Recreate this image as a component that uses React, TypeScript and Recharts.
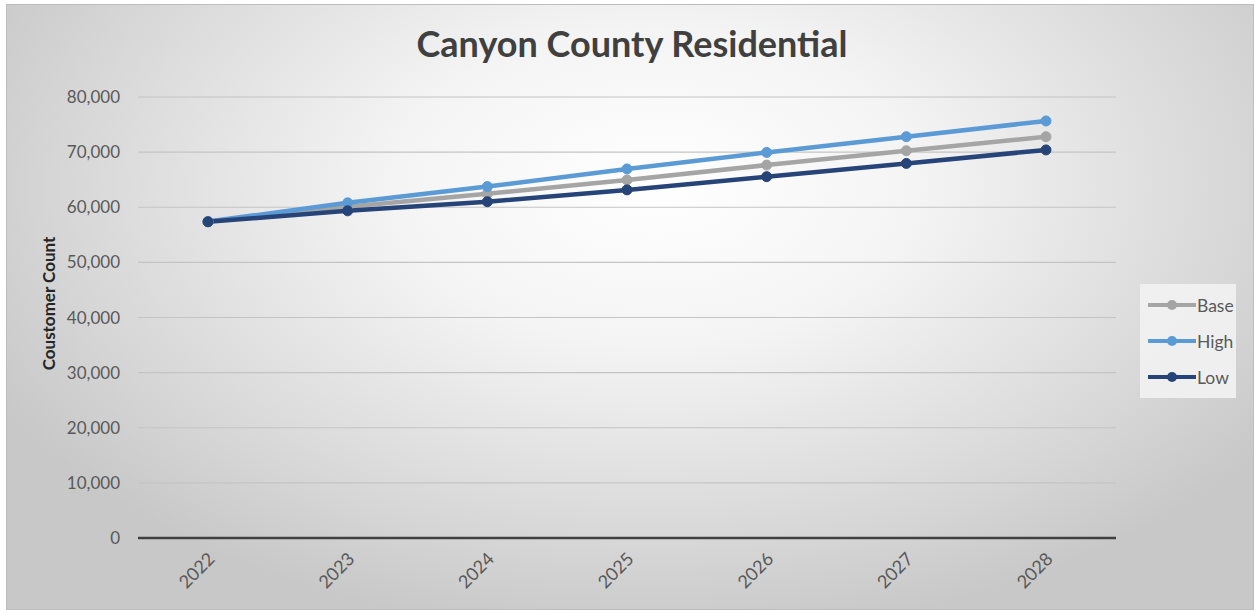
import { LineChart, Line, XAxis, YAxis, CartesianGrid, Legend } from "recharts";

const years = ["2022", "2023", "2024", "2025", "2026", "2027", "2028"];
const base = [57400, 60100, 62450, 64950, 67650, 70250, 72800];
const high = [57400, 60800, 63750, 66950, 69950, 72800, 75650];
const low = [57350, 59350, 61000, 63150, 65550, 67950, 70400];
const yTicks = [0, 10000, 20000, 30000, 40000, 50000, 60000, 70000, 80000];

const data = years.map((year, i) => ({ year, Base: base[i], High: high[i], Low: low[i] }));

const FONT = "Lato, 'Open Sans', sans-serif";

const YearTick = (props: any) => {
  const { x, y, payload } = props;
  const ax = x + 8;
  const ay = y + 14;
  return (
    <text
      x={ax}
      y={ay}
      transform={`rotate(-45, ${ax}, ${ay})`}
      textAnchor="end"
      fill="#595959"
      fontSize={18}
      fontFamily={FONT}
    >
      {payload.value}
    </text>
  );
};

const LegendBox = (props: any) => {
  const { payload } = props;
  return (
    <div
      style={{
        background: "rgba(242,242,242,0.9)",
        padding: "3px 2px 3px 8px",
        width: 86,
        fontFamily: FONT,
        fontSize: 17.5,
        color: "#595959",
      }}
    >
      {payload.map((p: any) => (
        <div key={p.value} style={{ display: "flex", alignItems: "center", height: 36 }}>
          <svg width={48} height={12} style={{ marginRight: 1 }}>
            <line x1={0} y1={6} x2={48} y2={6} stroke={p.color} strokeWidth={4} />
            <circle cx={24} cy={6} r={5} fill={p.color} />
          </svg>
          <span>{p.value}</span>
        </div>
      ))}
    </div>
  );
};

export default function App() {
  return (
    <div style={{ position: "absolute", left: 0, top: 0, width: 1259, height: 610, background: "#fff" }}>
      <div
        style={{
          position: "absolute",
          left: 6,
          top: 4,
          width: 1246,
          height: 604,
          border: "1px solid #bdbdbd",
          background: "radial-gradient(ellipse 60% 75% at 52% 30%, #ffffff 0%, #f4f4f4 35%, #d6d6d6 80%, #c8c8c8 100%)",
        }}
      />
      <div
        style={{
          position: "absolute",
          left: 0,
          top: 21,
          width: 1264,
          textAlign: "center",
          fontFamily: FONT,
          fontWeight: 700,
          fontSize: 36,
          color: "#404040",
        }}
      >
        Canyon County Residential
      </div>
      <div style={{ position: "absolute", left: 0, top: 0 }}>
        <LineChart width={1259} height={610} data={data} margin={{ top: 97, right: 47, bottom: 0, left: 0 }}>
          <CartesianGrid horizontal vertical={false} stroke="#c4c4c4" strokeWidth={1.2} />
          <XAxis
            dataKey="year"
            padding={{ left: 70, right: 70 }}
            tick={<YearTick />}
            tickLine={false}
            axisLine={{ stroke: "#404040", strokeWidth: 2.5 }}
            interval={0}
            height={72}
          />
          <YAxis
            domain={[0, 80000]}
            ticks={yTicks}
            width={138}
            tickLine={false}
            axisLine={false}
            tickMargin={12}
            tickFormatter={(v: number) => v.toLocaleString("en-US")}
            tick={{ fill: "#595959", fontSize: 17, fontFamily: FONT }}
            label={{
              value: "Coustomer Count",
              angle: -90,
              position: "center",
              dx: -20,
              dy: -14,
              style: { fill: "#262626", fontSize: 17, fontWeight: 700, fontFamily: FONT, textAnchor: "middle" },
            }}
          />
          <Legend
            layout="vertical"
            verticalAlign="top"
            align="right"
            content={<LegendBox />}
            wrapperStyle={{ top: 284, right: 23, width: 96 }}
          />
          <Line type="linear" dataKey="Base" stroke="#a5a5a5" strokeWidth={4.5} dot={{ r: 5, fill: "#a5a5a5", stroke: "#a5a5a5", strokeWidth: 1 }} isAnimationActive={false} />
          <Line type="linear" dataKey="High" stroke="#5b9bd5" strokeWidth={4.5} dot={{ r: 5, fill: "#5b9bd5", stroke: "#5b9bd5", strokeWidth: 1 }} isAnimationActive={false} />
          <Line type="linear" dataKey="Low" stroke="#264478" strokeWidth={4.5} dot={{ r: 5, fill: "#264478", stroke: "#264478", strokeWidth: 1 }} isAnimationActive={false} />
        </LineChart>
      </div>
    </div>
  );
}
